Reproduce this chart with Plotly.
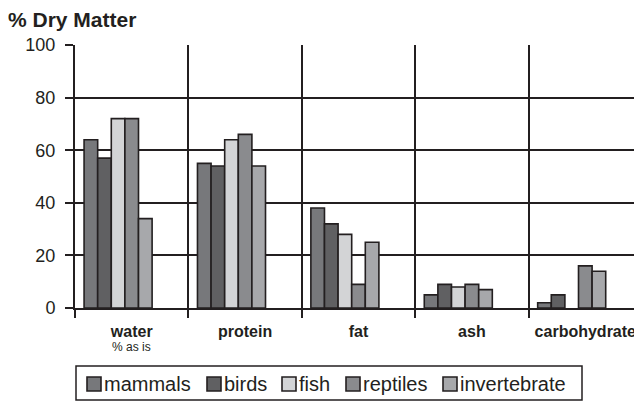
import plotly.graph_objects as go

categories = ["water", "protein", "fat", "ash", "carbohydrate"]
series_names = ["mammals", "birds", "fish", "reptiles", "invertebrate"]
mammals = [64, 55, 38, 5, 2]
birds = [57, 54, 32, 9, 5]
fish = [72, 64, 28, 8, None]
reptiles = [72, 66, 9, 9, 16]
invertebrate = [34, 54, 25, 7, 14]
series_values = [mammals, birds, fish, reptiles, invertebrate]
colors = ["#77787b", "#606062", "#d3d4d6", "#8a8b8e", "#a7a8ab"]
y_ticks = [0, 20, 40, 60, 80, 100]

INK = "#231f20"
FONT = "Liberation Sans, Arial, sans-serif"

# the page body adds an 8px margin; size the figure to the visible window
OFF = 8
W, H = 642 - OFF, 402 - OFF
ML, MR = 75 - OFF, 0
MT = 45 - OFF
PLOT_BOTTOM = 308 - OFF
MB = H - PLOT_BOTTOM
PLOT_W = W - ML - MR
PLOT_H = H - MT - MB


def px_x(px):
    return (px - OFF - ML) / PLOT_W


def px_y(py):
    return (PLOT_BOTTOM - (py - OFF)) / PLOT_H


fig = go.Figure()
slot = 0.12
start = -0.42
for i, (name, vals, col) in enumerate(zip(series_names, series_values, colors)):
    fig.add_trace(go.Bar(
        x=categories, y=vals, name=name,
        marker=dict(color=col, line=dict(color=INK, width=1.6)),
        width=slot, offset=start + i * slot,
    ))

fig.update_layout(
    width=W, height=H,
    margin=dict(l=ML, r=MR, t=MT, b=MB, autoexpand=False),
    plot_bgcolor="white", paper_bgcolor="white",
    barmode="overlay",
    showlegend=False,
    font=dict(family=FONT, color=INK),
    title=dict(text="<b>% Dry Matter</b>", font=dict(size=21, color=INK, family=FONT),
               xref="container", x=0.0, xanchor="left",
               yref="container", y=1 - 4 / H, yanchor="top", pad=dict(l=0, t=0)),
    xaxis=dict(type="category", range=[-0.5, 4.5], tickson="boundaries",
               showgrid=True, gridcolor=INK, gridwidth=2,
               showline=True, linecolor=INK, linewidth=2,
               ticks="outside", ticklen=8, tickwidth=2, tickcolor=INK,
               tickfont=dict(size=16, family=FONT, color=INK, weight="bold"),
               ticklabelstandoff=8, fixedrange=True, automargin=False),
    yaxis=dict(range=[0, 100], tickvals=y_ticks,
               showgrid=True, gridcolor=INK, gridwidth=2,
               showline=True, linecolor=INK, linewidth=2,
               ticks="outside", ticklen=8, tickwidth=2, tickcolor=INK,
               tickfont=dict(size=18, family=FONT, color=INK),
               ticklabelstandoff=6, zeroline=False, fixedrange=True, automargin=False),
)

fig.add_annotation(text="% as is", x="water", xref="x",
                   y=px_y(340), yref="paper",
                   yanchor="top", showarrow=False, borderpad=0, borderwidth=0,
                   font=dict(size=12, family=FONT, color=INK))

# Legend (drawn to match the reference's compact layout)
legend_box = (76, 366, 582, 400)
legend_square_x = [87, 207, 282, 346, 443]
SQ = 14
LEG_CY = 384
fig.add_shape(type="rect", xref="paper", yref="paper",
              x0=px_x(legend_box[0]), x1=px_x(legend_box[2]),
              y0=px_y(legend_box[3]), y1=px_y(legend_box[1]),
              line=dict(color=INK, width=1.5), fillcolor="white", layer="above")
for name, col, sx in zip(series_names, colors, legend_square_x):
    fig.add_shape(type="rect", xref="paper", yref="paper",
                  x0=px_x(sx), x1=px_x(sx + SQ),
                  y0=px_y(LEG_CY + SQ / 2), y1=px_y(LEG_CY - SQ / 2),
                  line=dict(color=INK, width=1.6), fillcolor=col, layer="above")
    fig.add_annotation(text=name, xref="paper", yref="paper",
                       x=px_x(sx + SQ + 3), y=px_y(LEG_CY), xanchor="left", yanchor="middle",
                       showarrow=False, borderpad=0, borderwidth=0,
                       font=dict(size=20, family=FONT, color=INK))

fig.write_html("out.html")
